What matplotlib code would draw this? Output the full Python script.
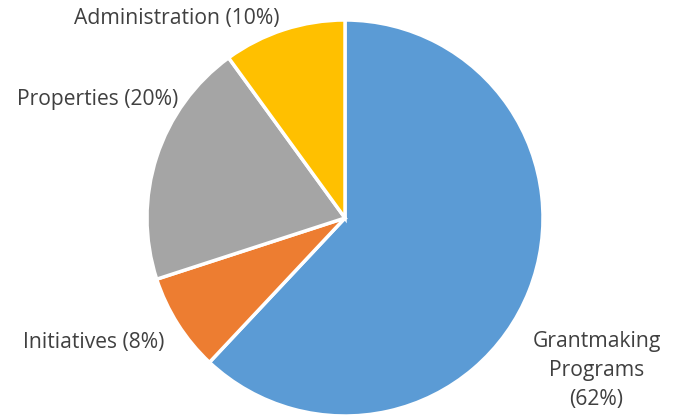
import matplotlib.pyplot as plt

labels = ['Grantmaking\nPrograms\n(62%)', 'Initiatives (8%)', 'Properties (20%)', 'Administration (10%)']
values = [62, 8, 20, 10]
colors = ['#5B9BD5', '#ED7D31', '#A5A5A5', '#FFC000']

# label anchors (in pie radius units) and alignment, as Excel placed them
label_xy = [(1.27, -0.77), (-0.91, -0.63), (-0.84, 0.60), (-0.33, 1.01)]
label_ha = ['center', 'right', 'right', 'right']

plt.rcParams['font.family'] = ['Open Sans', 'DejaVu Sans']

fig = plt.figure(figsize=(6.76, 4.16), dpi=100)
ax = fig.add_axes([(345 - 198) / 676, 0.0, 396 / 676, 396 / 416])
ax.pie(values, colors=colors, startangle=90, counterclock=False,
       wedgeprops=dict(edgecolor='white', linewidth=2.5))
for lab, (x, y), ha in zip(labels, label_xy, label_ha):
    ax.text(x, y, lab, ha=ha, va='center', fontsize=15.2, color='#404040',
            linespacing=1.5)
ax.set_xlim(-1, 1)
ax.set_ylim(-1, 1)
ax.set_aspect('equal')
ax.axis('off')
ax.set_clip_on(False)

fig.savefig('out.png', dpi=100)
